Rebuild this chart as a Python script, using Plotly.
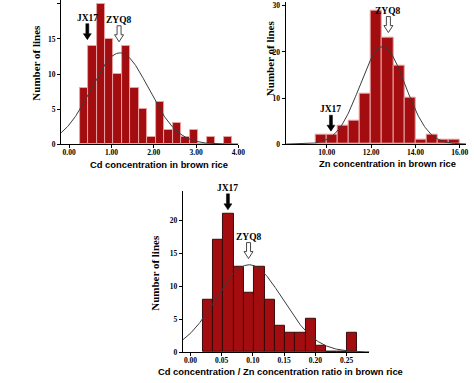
import numpy as np
import plotly.graph_objects as go

W, H = 474, 383

# ---------------- data ----------------
cd_bin_start = 0.25
cd_bin_width = 0.2
cd_counts = [8, 14, 20, 15, 10, 14, 8, 5, 1, 6, 2, 3, 1, 2, 0, 1, 0, 1]
cd_fit_mean, cd_fit_sd = 1.2, 0.68
cd_markers = {"JX17": (0.43, 14.9), "ZYQ8": (1.18, 14.6)}
cd_ticks = [0, 1, 2, 3, 4]
cd_ticklabels = ["0.00", "1.00", "2.00", "3.00", "4.00"]

zn_bin_start = 9.5
zn_bin_width = 0.5
zn_counts = [2, 2, 4, 5, 11, 29, 23, 17, 10, 1, 2, 1, 1]
zn_fit_mean, zn_fit_sd = 12.52, 1.02
zn_markers = {"JX17": (10.19, 2.8), "ZYQ8": (12.78, 24.2)}
zn_ticks = [10, 12, 14, 16]
zn_ticklabels = ["10.00", "12.00", "14.00", "16.00"]

ratio_bin_start = 0.0196
ratio_bin_width = 0.0165
ratio_counts = [8, 17, 21, 13, 9, 13, 8, 4, 3, 3, 5, 1, 0, 0, 3]
ratio_fit_mean, ratio_fit_sd = 0.094, 0.0536
ratio_markers = {"JX17": (0.06, 21.6), "ZYQ8": (0.093, 14.2)}
ratio_ticks = [0, 0.05, 0.10, 0.15, 0.20, 0.25]
ratio_ticklabels = ["0.00", "0.05", "0.10", "0.15", "0.20", "0.25"]

y_title = "Number of lines"
x_titles = ["Cd concentration in brown rice",
            "Zn concentration in brown rice",
            "Cd concentration / Zn concentration ratio in brown rice"]

# ---------------- layout geometry (pixels) ----------------
panels = [
    dict(counts=cd_counts, start=cd_bin_start, bw=cd_bin_width, mean=cd_fit_mean, sd=cd_fit_sd,
         markers=cd_markers, ticks=cd_ticks, ticklabels=cd_ticklabels,
         xr=[-0.19, 4.0], yr=[0, 20.56], px=(62, 242), py=(0, 146),
         yticks=[0, 5, 10, 15, 20], edge="#e6a2a2",
         xt=(161.7, 166.5), yt=(37, 63)),
    dict(counts=zn_counts, start=zn_bin_start, bw=zn_bin_width, mean=zn_fit_mean, sd=zn_fit_sd,
         markers=zn_markers, ticks=zn_ticks, ticklabels=zn_ticklabels,
         xr=[8.15, 16.28], yr=[0, 30.9], px=(290, 473), py=(1.7, 146),
         yticks=[0, 10, 20, 30], edge="#e6a2a2",
         xt=(393, 166), yt=(274, 59)),
    dict(counts=ratio_counts, start=ratio_bin_start, bw=ratio_bin_width, mean=ratio_fit_mean,
         sd=ratio_fit_sd, markers=ratio_markers, ticks=ratio_ticks, ticklabels=ratio_ticklabels,
         xr=[-0.012, 0.2866], yr=[0, 24.5], px=(185.7, 375), py=(193.3, 356.7),
         yticks=[0, 5, 10, 15, 20], edge="#3a0a0a",
         xt=(285, 376.5), yt=(157, 276.7)),
]

fig = go.Figure()
BAR = "#a30d0f"
tickfont = dict(family="Liberation Serif", size=7.5, color="black", weight="bold")

ARROW = "M0,0 L-4,6 L-1.5,6 L-1.5,16 L1.5,16 L1.5,6 L4,6 Z"
HOLLOW = "M0,0 L-4.5,7 L-2,7 L-2,16 L2,16 L2,7 L4.5,7 Z"

annotations = []
shapes = []
for i, p in enumerate(panels, start=1):
    xa = "x" if i == 1 else f"x{i}"
    ya = "y" if i == 1 else f"y{i}"
    n = len(p["counts"])
    centers = [p["start"] + p["bw"] * (k + 0.5) for k in range(n)]
    fig.add_trace(go.Bar(x=centers, y=p["counts"], width=p["bw"], xaxis=xa, yaxis=ya,
                         marker=dict(color=BAR, line=dict(color=p["edge"], width=1)),
                         showlegend=False, hoverinfo="x+y"))
    total = sum(p["counts"])
    xs = np.linspace(p["xr"][0], p["xr"][1], 300)
    ys = total * p["bw"] / (p["sd"] * np.sqrt(2 * np.pi)) * np.exp(-0.5 * ((xs - p["mean"]) / p["sd"]) ** 2)
    fig.add_trace(go.Scatter(x=xs, y=ys, mode="lines", xaxis=xa, yaxis=ya,
                             line=dict(color="#3c3c3c", width=1), showlegend=False, hoverinfo="skip"))

    x0, x1 = p["px"]
    y0, y1 = p["py"]
    fig.update_layout(**{
        ("xaxis" if i == 1 else f"xaxis{i}"): dict(
            domain=[x0 / W, x1 / W], range=p["xr"], anchor=ya, showline=True, linecolor="black",
            linewidth=1.2, ticks="outside", ticklen=3, tickcolor="black", tickvals=p["ticks"],
            ticktext=p["ticklabels"], tickfont=tickfont, showgrid=False, zeroline=False,
            ticklabelstandoff=-2),
        ("yaxis" if i == 1 else f"yaxis{i}"): dict(
            domain=[1 - y1 / H, 1 - y0 / H], range=p["yr"], anchor=xa, showline=True,
            linecolor="black", linewidth=1.2, ticks="outside", ticklen=3, tickcolor="black",
            tickvals=p["yticks"], tickfont=tickfont, showgrid=False, zeroline=False),
    })

    annotations.append(dict(text=f"<b>{x_titles[i-1]}</b>", xref="paper", yref="paper",
                            x=p["xt"][0] / W, y=1 - p["xt"][1] / H,
                            showarrow=False, xanchor="center", yanchor="middle",
                            font=dict(family="Liberation Sans", size=9.4, color="black")))
    annotations.append(dict(text=f"<b>{y_title}</b>", xref="paper", yref="paper",
                            x=p["yt"][0] / W, y=1 - p["yt"][1] / H,
                            showarrow=False, textangle=-90, xanchor="center", yanchor="middle",
                            font=dict(family="Liberation Serif", size=11, color="black")))

    for name, (xv, tip) in p["markers"].items():
        if name == "JX17":
            shapes.append(dict(type="path", xref=xa, yref=ya, xsizemode="pixel", ysizemode="pixel",
                               xanchor=xv, yanchor=tip, path=ARROW, fillcolor="black",
                               line=dict(color="black", width=0.5)))
        else:
            shapes.append(dict(type="path", xref=xa, yref=ya, xsizemode="pixel", ysizemode="pixel",
                               xanchor=xv, yanchor=tip, path=HOLLOW, fillcolor="white",
                               line=dict(color="#333333", width=0.9)))
        annotations.append(dict(x=xv, y=tip, xref=xa, yref=ya, text=f"<b>{name}</b>",
                                showarrow=False, yshift=22, xanchor="center", yanchor="middle",
                                font=dict(family="Liberation Serif", size=9.5, color="black")))

fig.update_layout(width=W, height=H, margin=dict(l=0, r=0, t=0, b=0),
                  plot_bgcolor="white", paper_bgcolor="white", bargap=0,
                  annotations=annotations, shapes=shapes)
fig.write_html("out.html", config={"displayModeBar": False},
               post_script="document.body.style.margin='0';document.body.style.overflow='hidden';")
